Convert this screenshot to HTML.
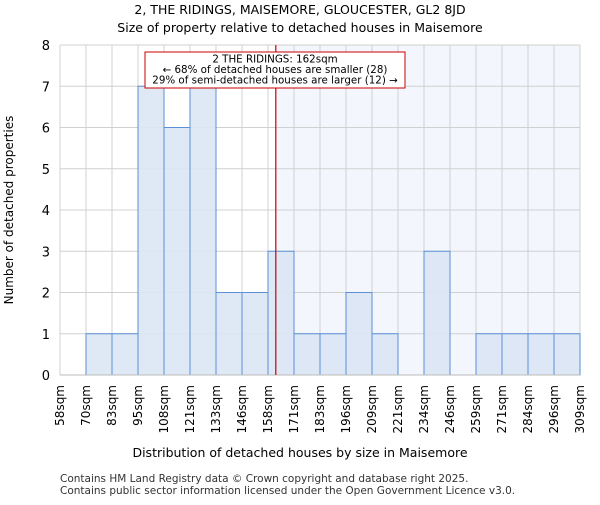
<!DOCTYPE html>
<html><head><meta charset="utf-8"><style>body{margin:0;background:#fff}svg{font-family:"DejaVu Sans","Liberation Sans",sans-serif}</style></head><body>
<svg width="600" height="500" viewBox="0 0 600 500">
<text x="300" y="14" font-size="12.5" text-anchor="middle">2, THE RIDINGS, MAISEMORE, GLOUCESTER, GL2 8JD</text>
<text x="300" y="32" font-size="12.5" text-anchor="middle">Size of property relative to detached houses in Maisemore</text>
<g id="plot"></g>
<text x="300" y="457" font-size="12.5" text-anchor="middle">Distribution of detached houses by size in Maisemore</text>
<text transform="translate(13,210) rotate(-90)" font-size="12" text-anchor="middle">Number of detached properties</text>
<text x="60" y="482" font-size="10.5" fill="#333">Contains HM Land Registry data © Crown copyright and database right 2025.</text>
<text x="60" y="494" font-size="10.5" fill="#333">Contains public sector information licensed under the Open Government Licence v3.0.</text>
</svg>
<script>
const binLabels=["58sqm","70sqm","83sqm","95sqm","108sqm","121sqm","133sqm","146sqm","158sqm","171sqm","183sqm","196sqm","209sqm","221sqm","234sqm","246sqm","259sqm","271sqm","284sqm","296sqm","309sqm"];
const counts=[0,1,1,7,6,7,2,2,3,1,1,2,1,0,3,0,1,1,1,1];
const yTicks=[0,1,2,3,4,5,6,7,8];
const propertyBin=8.3;
const NS="http://www.w3.org/2000/svg";
const g=document.getElementById('plot');
const X0=60,X1=580,Y0=375,Y1=45,yMax=8;
const bw=(X1-X0)/counts.length;
const xs=i=>X0+i*bw;
const ys=v=>Y0-(v/yMax)*(Y0-Y1);
function mk(t,a){const e=document.createElementNS(NS,t);for(const k in a)e.setAttribute(k,a[k]);g.appendChild(e);return e;}
const px=xs(propertyBin);
let e=mk('rect',{x:px,y:Y1,width:X1-px,height:Y0-Y1,fill:'#f3f6fc'});


for(let i=0;i<binLabels.length;i++){e=mk('line',{x1:xs(i),x2:xs(i),y1:Y1,y2:Y0,stroke:'#d0d0d0'});

}
yTicks.forEach(t=>{e=mk('line',{x1:X0,x2:X1,y1:ys(t),y2:ys(t),stroke:'#d0d0d0'});


e=mk('text',{x:X0-10,y:ys(t)+5,'font-size':13,'text-anchor':'end'});e.textContent=t;

});
counts.forEach((c,i)=>{if(!c)return;e=mk('rect',{x:xs(i),y:ys(c),width:bw,height:Y0-ys(c),fill:'#dce6f4','fill-opacity':0.9,stroke:'#5b8fd6','stroke-width':1});

});
binLabels.forEach((l,i)=>{e=mk('text',{transform:`translate(${xs(i)+4},385) rotate(-90)`,'font-size':12,'text-anchor':'end'});e.textContent=l;

});
e=mk('line',{x1:X0,x2:X1,y1:Y0,y2:Y0,stroke:'#bbb'});


e=mk('line',{x1:px,x2:px,y1:Y1,y2:Y0,stroke:'#cc0000','stroke-width':1.2});


e=mk('rect',{x:145,y:52,width:260,height:36,fill:'#fff',stroke:'#cc0000'});


["2 THE RIDINGS: 162sqm","← 68% of detached houses are smaller (28)","29% of semi-detached houses are larger (12) →"].forEach((s,k)=>{e=mk('text',{x:275,y:62.5+k*10.5,'font-size':10.3,'text-anchor':'middle'});e.textContent=s;

});
</script>
</body></html>
